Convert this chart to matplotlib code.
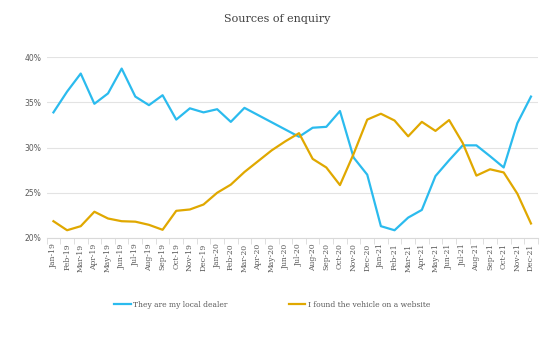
import matplotlib
matplotlib.use("Agg")
import matplotlib.pyplot as plt
import numpy as np

months = ["Jan-19","Feb-19","Mar-19","Apr-19","May-19","Jun-19","Jul-19","Aug-19","Sep-19","Oct-19","Nov-19","Dec-19",
          "Jan-20","Feb-20","Mar-20","Apr-20","May-20","Jun-20","Jul-20","Aug-20","Sep-20","Oct-20","Nov-20","Dec-20",
          "Jan-21","Feb-21","Mar-21","Apr-21","May-21","Jun-21","Jul-21","Aug-21","Sep-21","Oct-21","Nov-21","Dec-21"]
local_dealer = [33.9, 36.2, 38.2, 34.85, 36.0, 38.75, 35.65, 34.7, 35.8, 33.1, 34.35, 33.9,
                34.25, 32.85, 34.4, 33.6, 32.8, 32.0, 31.2, 32.2, 32.3, 34.05, 28.9, 27.0,
                21.3, 20.85, 22.25, 23.1, 26.85, 28.6, 30.25, 30.25, 29.05, 27.8, 32.7, 35.65]
website = [21.85, 20.85, 21.3, 22.9, 22.15, 21.85, 21.8, 21.45, 20.9, 23.0, 23.15, 23.7,
           25.0, 25.9, 27.3, 28.5, 29.7, 30.7, 31.6, 28.75, 27.8, 25.85, 29.3, 33.1,
           33.75, 33.0, 31.25, 32.85, 31.85, 33.05, 30.5, 26.9, 27.6, 27.25, 24.9, 21.6]
yticks = [20, 25, 30, 35, 40]

blue = "#2BBBEE"
gold = "#E0A800"
grey = "#595959"

fig = plt.figure(figsize=(5.55, 3.37), dpi=100)
ax = fig.add_axes([0.084, 0.294, 0.885, 0.536])
x = np.arange(len(months))
ax.plot(x, local_dealer, color=blue, lw=1.6, label="They are my local dealer")
ax.plot(x, website, color=gold, lw=1.6, label="I found the vehicle on a website")

ax.set_xlim(-0.5, len(months) - 0.5)
ax.set_ylim(20, 40)
ax.set_yticks(yticks)
ax.set_yticklabels([f"{v}%" for v in yticks], fontsize=5.5, color=grey, family="DejaVu Sans")
ax.set_xticks(x)
ax.set_xticklabels(months, rotation=90, fontsize=5.5, color=grey, family="DejaVu Serif")
ax.set_xticks(np.arange(-0.5, len(months), 1), minor=True)
ax.tick_params(axis="x", which="major", length=0, pad=4)
ax.tick_params(axis="x", which="minor", length=4, color="#D9D9D9", width=0.6)
ax.tick_params(axis="y", length=0, pad=4)
ax.grid(axis="y", color="#E3E3E3", lw=0.8)
ax.set_axisbelow(True)
for s in ["top", "right", "left"]:
    ax.spines[s].set_visible(False)
ax.spines["bottom"].set_color("#D9D9D9")
ax.spines["bottom"].set_linewidth(0.8)

fig.text(0.5, 0.945, "Sources of enquiry", ha="center", va="center", fontsize=8, color="#404040", family="DejaVu Serif")
leg = fig.legend(loc="center", bbox_to_anchor=(0.49, 0.095), ncol=2, frameon=False,
                 handlelength=2.2, handletextpad=0.3, columnspacing=8.0,
                 prop={"family": "DejaVu Serif", "size": 5.5})
for t in leg.get_texts():
    t.set_color(grey)

fig.savefig("out.png", dpi=100)
